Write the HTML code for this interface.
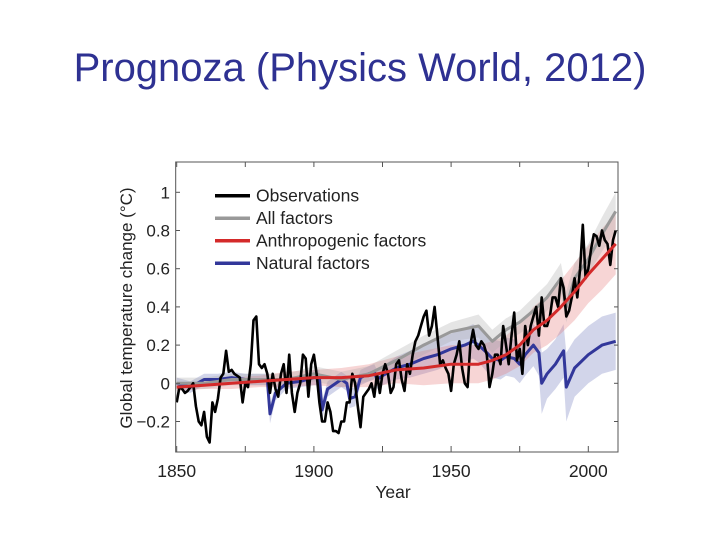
<!DOCTYPE html>
<html><head><meta charset="utf-8"><style>
body{margin:0;width:720px;height:540px;background:#fff;overflow:hidden;font-family:"Liberation Sans",sans-serif}
#title{position:absolute;left:0;top:44px;width:720px;text-align:center;font-size:40px;line-height:48px;color:#2e3192}
</style></head><body>
<div id="title">Prognoza (Physics World, 2012)</div>
<svg id="chart" width="720" height="540" style="position:absolute;left:0;top:0"></svg>
<script>
const obsYears=[];for(let y=1850;y<=2010;y++)obsYears.push(y);
const obsValues=[-0.1,-0.02,-0.03,-0.05,-0.04,-0.02,0.0,-0.12,-0.2,-0.22,-0.15,-0.28,-0.31,-0.1,-0.15,-0.08,0.03,0.05,0.17,0.06,0.07,0.05,0.04,0.03,-0.1,0.0,-0.02,0.1,0.33,0.35,0.1,0.08,0.1,0.05,-0.05,0.05,-0.03,-0.07,0.05,0.1,-0.05,0.15,-0.05,-0.15,-0.05,0.0,0.15,0.13,-0.07,0.1,0.15,0.05,-0.1,-0.2,-0.2,-0.1,-0.15,-0.25,-0.25,-0.26,-0.2,-0.2,-0.1,-0.1,0.05,0.0,-0.12,-0.23,-0.07,-0.05,-0.03,0.0,-0.07,0.05,-0.05,0.05,0.1,0.05,-0.05,-0.02,0.1,0.12,0.02,-0.04,0.1,0.05,0.15,0.22,0.25,0.3,0.35,0.38,0.25,0.3,0.4,0.25,0.1,0.12,0.08,0.05,-0.04,0.1,0.15,0.22,0.08,0.0,-0.02,0.2,0.28,0.2,0.18,0.22,0.2,0.15,-0.02,0.05,0.15,0.15,0.1,0.3,0.2,0.1,0.25,0.37,0.12,0.18,0.05,0.3,0.2,0.3,0.35,0.4,0.25,0.45,0.3,0.3,0.35,0.45,0.45,0.4,0.55,0.5,0.35,0.38,0.45,0.55,0.45,0.6,0.83,0.55,0.6,0.7,0.78,0.77,0.72,0.8,0.75,0.73,0.62,0.75,0.8];
const allYears=[1850,1860,1870,1880,1890,1900,1910,1920,1930,1940,1950,1960,1965,1970,1975,1980,1985,1990,1992,1995,2000,2005,2010];
const allValues=[0,0,0.02,0.02,0.02,0.05,0.02,0.05,0.12,0.2,0.27,0.3,0.22,0.28,0.32,0.38,0.45,0.55,0.4,0.55,0.65,0.78,0.9];
const allSpread=[0.03,0.03,0.03,0.03,0.03,0.04,0.04,0.04,0.05,0.05,0.05,0.06,0.06,0.06,0.06,0.07,0.07,0.08,0.08,0.08,0.08,0.09,0.1];
const antYears=[1850,1860,1870,1880,1890,1900,1910,1920,1930,1940,1950,1960,1965,1970,1975,1980,1985,1990,1995,2000,2005,2010];
const antValues=[-0.02,-0.01,0,0.01,0.02,0.03,0.03,0.04,0.07,0.08,0.1,0.1,0.12,0.15,0.2,0.28,0.33,0.4,0.48,0.57,0.65,0.73];
const antSpread=[0.02,0.02,0.03,0.03,0.04,0.04,0.05,0.06,0.07,0.09,0.1,0.1,0.1,0.1,0.11,0.12,0.13,0.14,0.15,0.15,0.16,0.16];
const natYears=[1850,1855,1860,1865,1870,1875,1880,1883,1884,1886,1890,1895,1900,1902,1903,1905,1910,1912,1913,1915,1917,1920,1922,1923,1925,1930,1935,1940,1945,1950,1955,1958,1960,1963,1965,1968,1970,1973,1975,1977,1980,1982,1983,1985,1988,1991,1992,1995,2000,2005,2010];
const natValues=[0,-0.02,0.02,0.02,0.03,0.02,0.02,0.02,-0.16,-0.05,0,0.01,0.03,0.03,-0.14,-0.03,0.02,0,-0.08,-0.07,0.03,0.05,0.06,0.02,0.04,0.08,0.1,0.13,0.15,0.18,0.2,0.22,0.2,0.16,0.13,0.12,0.14,0.13,0.1,0.15,0.2,0.16,0,0.05,0.1,0.17,-0.02,0.08,0.15,0.2,0.22];
const natSpread=[0.03,0.03,0.03,0.03,0.03,0.03,0.03,0.03,0.05,0.04,0.03,0.03,0.04,0.04,0.05,0.04,0.04,0.04,0.05,0.05,0.04,0.04,0.04,0.05,0.05,0.06,0.07,0.08,0.08,0.08,0.09,0.09,0.09,0.1,0.1,0.1,0.1,0.1,0.1,0.11,0.11,0.12,0.16,0.13,0.13,0.14,0.18,0.15,0.15,0.15,0.15];
const yTicks=[-0.2,0,0.2,0.4,0.6,0.8,1];
const yTickLabels=["\u22120.2","0","0.2","0.4","0.6","0.8","1"];
const xTicks=[1850,1900,1950,2000];
const xMinor=[1875,1925,1975];
const legendLabels=["Observations","All factors","Anthropogenic factors","Natural factors"];
const legendColors=["#000","#999","#d42a2a","#32379a"];

const NS="http://www.w3.org/2000/svg";
const svg=document.getElementById('chart');
const X=y=>176.7+(y-1850)*2.744;
const Y=v=>383.3-v*191;
function mk(t,a,p){const e=document.createElementNS(NS,t);for(const k in a)e.setAttribute(k,a[k]);(p||svg).appendChild(e);return e;}
function line(xs,vs){return xs.map((x,i)=>(i?'L':'M')+X(x).toFixed(1)+','+Y(vs[i]).toFixed(1)).join('');}
function band(xs,vs,sp){let d=xs.map((x,i)=>(i?'L':'M')+X(x).toFixed(1)+','+Y(vs[i]+sp[i]).toFixed(1)).join('');for(let i=xs.length-1;i>=0;i--)d+='L'+X(xs[i]).toFixed(1)+','+Y(vs[i]-sp[i]).toFixed(1);return d+'Z';}

let e;
e=mk('path',{d:band(natYears,natValues,natSpread),fill:'#6a74b8','fill-opacity':0.3});

e=mk('path',{d:band(antYears,antValues,antSpread),fill:'#e57373','fill-opacity':0.3});

e=mk('path',{d:band(allYears,allValues,allSpread),fill:'#aaa','fill-opacity':0.3});

e=mk('path',{d:line(natYears,natValues),fill:'none',stroke:legendColors[3],'stroke-width':3,'stroke-linejoin':'round'});

e=mk('path',{d:line(allYears,allValues),fill:'none',stroke:legendColors[1],'stroke-width':3,'stroke-linejoin':'round'});

e=mk('path',{d:line(obsYears,obsValues),fill:'none',stroke:legendColors[0],'stroke-width':2.6,'stroke-linejoin':'round'});

e=mk('path',{d:line(antYears,antValues),fill:'none',stroke:legendColors[2],'stroke-width':3,'stroke-linejoin':'round'});


e=mk('rect',{x:175.7,y:162,width:442.3,height:290,fill:'none',stroke:'#555','stroke-width':1});

yTicks.forEach((v,i)=>{
  let t=mk('line',{x1:175.7,x2:180,y1:Y(v),y2:Y(v),stroke:'#555'});
  
  t=mk('line',{x1:614,x2:618,y1:Y(v),y2:Y(v),stroke:'#555'});
  
  t=mk('text',{x:170,y:Y(v)+6,'text-anchor':'end','font-size':17,fill:'#222'});t.textContent=yTickLabels[i];
  
});
xTicks.concat(xMinor).forEach(v=>{
  let t=mk('line',{x1:X(v),x2:X(v),y1:452,y2:446,stroke:'#555'});
  
  t=mk('line',{x1:X(v),x2:X(v),y1:162,y2:167,stroke:'#555'});
  
});
xTicks.forEach(v=>{
  let t=mk('text',{x:X(v),y:477,'text-anchor':'middle','font-size':17.5,fill:'#222'});t.textContent=v;
  
});
e=mk('text',{x:393,y:498,'text-anchor':'middle','font-size':17.5,fill:'#222'});e.textContent='Year';

e=mk('text',{x:0,y:0,'text-anchor':'middle','font-size':17,fill:'#222',transform:'translate(132,308) rotate(-90)'});e.textContent='Global temperature change (\u00B0C)';

const lg=mk('g',{});

legendLabels.forEach((s,i)=>{
  const y=195.7+i*22.5;
  let t=mk('line',{x1:215,x2:250,y1:y,y2:y,stroke:legendColors[i],'stroke-width':3.5},lg);
  
  t=mk('text',{x:256,y:y+6,'font-size':17.5,fill:'#222'},lg);t.textContent=s;
  
});
</script>
</body></html>
